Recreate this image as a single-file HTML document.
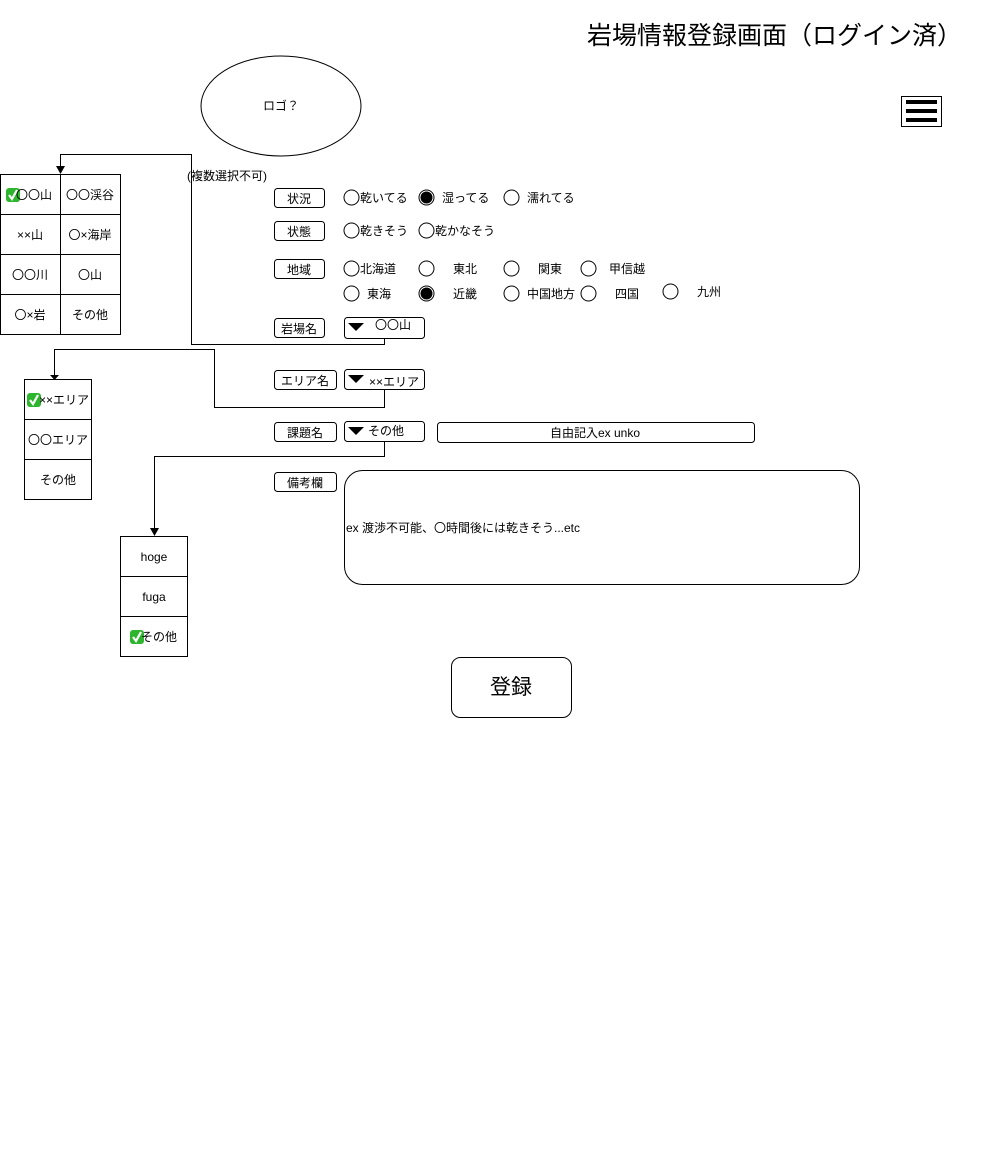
<!DOCTYPE html>
<html><head><meta charset="utf-8"><style>
html,body{margin:0;padding:0;background:#fff;}
svg{display:block;}
text{font-family:"Liberation Sans","Noto Sans CJK JP",sans-serif;font-size:12px;fill:#000;}
</style></head><body>
<svg width="982" height="1157" viewBox="0 0 982 1157" xmlns="http://www.w3.org/2000/svg">
<defs>
<g id="chk"><rect x="0" y="0" width="14" height="14" rx="3" fill="#2db52d"/><path d="M3 7 L6 11 L11 2" stroke="#fff" stroke-width="2.2" fill="none"/></g>
</defs>
<text x="962" y="44" text-anchor="end" style="font-size:25px">岩場情報登録画面（ログイン済）</text>
<ellipse cx="281" cy="106" rx="80" ry="50" fill="#fff" stroke="#000"/>
<text x="281" y="110" text-anchor="middle">ロゴ？</text>
<rect x="901.5" y="96.5" width="40" height="30" fill="#fff" stroke="#000"/>
<rect x="906" y="100" width="31" height="4" fill="#000"/><rect x="906" y="109" width="31" height="4" fill="#000"/><rect x="906" y="118" width="31" height="4" fill="#000"/>

<g fill="none" stroke="#000">
<polyline points="384.5,339 384.5,344.5 191.5,344.5 191.5,154.5 60.5,154.5 60.5,167"/>
<polyline points="384.5,390 384.5,407.5 214.5,407.5 214.5,349.5 54.5,349.5 54.5,375"/>
<polyline points="384.5,442 384.5,456.5 154.5,456.5 154.5,529"/>
</g>
<path d="M56 166 L60.5 174 L65 166 Z"/>
<path d="M50 375 L54.5 380 L59 375 Z"/>
<path d="M150 528 L154.5 536 L159 528 Z"/>

<g fill="#fff" stroke="#000">
<rect x="0.5" y="174.5" width="120" height="160"/>
<line x1="60.5" y1="174" x2="60.5" y2="335"/>
<line x1="0" y1="214.5" x2="121" y2="214.5"/><line x1="0" y1="254.5" x2="121" y2="254.5"/><line x1="0" y1="294.5" x2="121" y2="294.5"/>
<rect x="24.5" y="379.5" width="67" height="120"/>
<line x1="24" y1="419.5" x2="92" y2="419.5"/><line x1="24" y1="459.5" x2="92" y2="459.5"/>
<rect x="120.5" y="536.5" width="67" height="120"/>
<line x1="120" y1="576.5" x2="188" y2="576.5"/><line x1="120" y1="616.5" x2="188" y2="616.5"/>
</g>
<use href="#chk" x="6" y="188"/>
<text x="34" y="199" text-anchor="middle">〇〇山</text>
<text x="90" y="199" text-anchor="middle">〇〇渓谷</text>
<text x="30" y="239" text-anchor="middle">××山</text>
<text x="90" y="239" text-anchor="middle">〇×海岸</text>
<text x="30" y="279" text-anchor="middle">〇〇川</text>
<text x="90" y="279" text-anchor="middle">〇山</text>
<text x="30" y="319" text-anchor="middle">〇×岩</text>
<text x="90" y="319" text-anchor="middle">その他</text>
<use href="#chk" x="27" y="393"/>
<text x="64" y="404" text-anchor="middle">××エリア</text>
<text x="58" y="444" text-anchor="middle">〇〇エリア</text>
<text x="58" y="484" text-anchor="middle">その他</text>
<text x="154" y="561" text-anchor="middle">hoge</text>
<text x="154" y="601" text-anchor="middle">fuga</text>
<use href="#chk" x="130" y="630"/>
<text x="159" y="641" text-anchor="middle">その他</text>

<text x="187" y="180">(複数選択不可)</text>

<g fill="#fff" stroke="#000">
<rect x="274.5" y="188.5" width="50" height="19" rx="3"/>
<rect x="274.5" y="221.5" width="50" height="19" rx="3"/>
<rect x="274.5" y="259.5" width="50" height="19" rx="3"/>
<rect x="274.5" y="318.5" width="50" height="19" rx="3"/>
<rect x="274.5" y="370.5" width="62" height="19" rx="3"/>
<rect x="274.5" y="422.5" width="62" height="19" rx="3"/>
<rect x="274.5" y="472.5" width="62" height="19" rx="3"/>
<rect x="344.5" y="317.5" width="80" height="21" rx="3"/>
<rect x="344.5" y="369.5" width="80" height="20" rx="3"/>
<rect x="344.5" y="421.5" width="80" height="20" rx="3"/>
<rect x="437.5" y="422.5" width="317" height="20" rx="3"/>
<rect x="344.5" y="470.5" width="515" height="114" rx="18"/>
<rect x="451.5" y="657.5" width="120" height="60" rx="9"/>
</g>
<g text-anchor="middle">
<text x="299" y="203">状況</text><text x="299" y="236">状態</text><text x="299" y="274">地域</text>
<text x="299" y="333">岩場名</text><text x="305" y="385">エリア名</text><text x="305" y="437">課題名</text><text x="305" y="487">備考欄</text>
<text x="595" y="437">自由記入ex unko</text>
<text x="511" y="694" style="font-size:21px">登録</text>
</g>
<path d="M348 323 L364 323 L356 331 Z"/><text x="375" y="329">〇〇山</text>
<path d="M348 375 L364 375 L356 383 Z"/><text x="369" y="386">××エリア</text>
<path d="M348 427 L364 427 L356 435 Z"/><text x="368" y="435">その他</text>
<text x="346" y="532">ex 渡渉不可能、〇時間後には乾きそう...etc</text>

<g fill="#fff" stroke="#000">
<circle cx="351.5" cy="197.5" r="7.5"/><circle cx="511.5" cy="197.5" r="7.5"/>
<circle cx="351.5" cy="230.5" r="7.5"/><circle cx="426.5" cy="230.5" r="7.5"/>
<circle cx="351.5" cy="268.5" r="7.5"/><circle cx="426.5" cy="268.5" r="7.5"/><circle cx="511.5" cy="268.5" r="7.5"/><circle cx="588.5" cy="268.5" r="7.5"/>
<circle cx="351.5" cy="293.5" r="7.5"/><circle cx="511.5" cy="293.5" r="7.5"/><circle cx="588.5" cy="293.5" r="7.5"/><circle cx="670.5" cy="291.5" r="7.5"/>
<circle cx="426.5" cy="197.5" r="7.5"/><circle cx="426.5" cy="293.5" r="7.5"/>
</g>
<circle cx="426.5" cy="197.5" r="6" fill="#000"/>
<circle cx="426.5" cy="293.5" r="6" fill="#000"/>
<text x="360" y="202">乾いてる</text><text x="442" y="202">湿ってる</text><text x="527" y="202">濡れてる</text>
<text x="360" y="235">乾きそう</text><text x="435" y="235">乾かなそう</text>
<text x="360" y="273">北海道</text><text x="453" y="273">東北</text><text x="538" y="273">関東</text><text x="609" y="273">甲信越</text>
<text x="367" y="298">東海</text><text x="453" y="298">近畿</text><text x="527" y="298">中国地方</text><text x="615" y="298">四国</text><text x="697" y="296">九州</text>
</svg>
</body></html>
